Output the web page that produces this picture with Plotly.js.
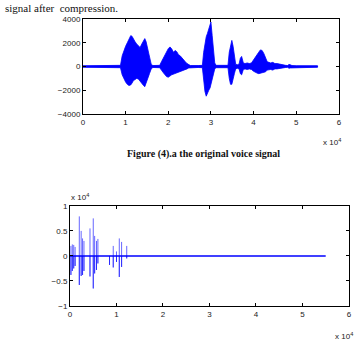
<!DOCTYPE html>
<html><head><meta charset="utf-8">
<script src="https://cdn.plot.ly/plotly-3.0.1.min.js"></script>
<style>html,body{margin:0;padding:0;background:#fff;}#c{width:359px;height:346px;}</style>
</head><body><div id="c"></div>
<script>
// Top plot: original voice signal (envelope, x in units of 10^4 samples)
const origX = [0,0.3,0.6,0.88,0.92,0.96,1.0,1.04,1.08,1.12,1.15,1.18,1.22,1.26,1.3,1.34,1.38,1.42,1.45,1.48,1.52,1.56,1.6,1.64,1.8,1.84,1.88,1.92,1.96,2.0,2.04,2.08,2.12,2.16,2.2,2.24,2.28,2.32,2.36,2.4,2.44,2.48,2.52,2.7,2.8,2.83,2.86,2.89,2.92,2.95,2.98,3.0,3.03,3.06,3.09,3.12,3.4,3.43,3.46,3.49,3.52,3.55,3.58,3.62,3.66,3.69,3.72,3.76,3.8,3.85,3.9,3.95,4.0,4.04,4.08,4.12,4.16,4.2,4.24,4.28,4.32,4.36,4.4,4.45,4.5,4.55,4.6,4.65,4.7,4.75,4.8,4.83,4.86,4.9,5.0,5.5];
const origUpper = [60,60,80,100,900,1400,1700,2000,2300,2600,2550,2300,2100,1900,1700,1600,1900,2200,2350,2100,1500,900,200,80,100,400,700,1000,1300,1500,1650,1500,1200,1350,1250,1000,900,700,500,400,250,150,80,80,100,1200,2000,2500,2800,3200,3500,3750,2600,1200,300,100,100,1200,1900,2200,1700,900,200,150,200,700,850,300,250,300,250,300,600,800,1000,1200,1400,1350,1100,800,400,350,300,350,250,250,200,180,150,100,80,180,150,80,60,60];
const origLower = [-60,-60,-80,-100,-700,-1000,-1300,-1500,-1600,-1550,-1400,-1200,-1100,-1000,-1050,-1200,-1400,-1600,-1700,-1500,-1000,-600,-200,-80,-100,-300,-500,-700,-850,-900,-800,-700,-600,-550,-500,-450,-400,-350,-300,-250,-200,-120,-80,-80,-100,-1200,-2100,-2500,-2300,-2000,-1800,-1500,-1200,-700,-200,-100,-100,-1000,-1500,-1500,-1100,-600,-200,-150,-200,-600,-700,-250,-200,-250,-200,-250,-400,-500,-550,-600,-600,-550,-500,-450,-300,-300,-250,-300,-200,-200,-150,-150,-120,-80,-60,-150,-120,-60,-60,-60];
const signalEnd = 5.5;

// Bottom plot: compressed signal spikes (x in 10^4, values in 10^4)
const compX   = [0.02,0.05,0.08,0.11,0.2,0.24,0.27,0.3,0.43,0.5,0.53,0.57,0.6,0.85,0.93,1.0,1.06,1.11,1.22];
const compTop = [0.2,0.23,0.22,0.18,0.79,0.5,0.35,0.3,0.55,0.75,0.4,0.3,0.34,0.0,0.2,0.09,0.35,0.28,0.2];
const compBot = [-0.38,-0.3,-0.25,-0.2,-0.58,-0.4,-0.38,-0.3,-0.41,-0.65,-0.35,-0.28,-0.15,-0.18,-0.23,-0.12,-0.42,-0.22,-0.05];

const xTicks = [0,1,2,3,4,5,6];

const polyX = origX.concat(origX.slice().reverse());
const polyY = origUpper.concat(origLower.slice().reverse());

const spikeX = [], spikeY = [];
compX.forEach((x,i)=>{ spikeX.push(x,x,x,null); spikeY.push(compTop[i],compBot[i],0,null); });

const blue = 'rgb(0,0,255)';
const traces = [
  {x: polyX, y: polyY, type:'scatter', mode:'lines', fill:'toself', fillcolor: blue,
   line:{color:blue, width:0.8}, xaxis:'x', yaxis:'y', hoverinfo:'skip'},
  {x:[0, signalEnd], y:[0,0], type:'scatter', mode:'lines', line:{color:blue, width:1.5}, xaxis:'x', yaxis:'y'},
  {x: spikeX, y: spikeY, type:'scatter', mode:'lines', line:{color:'rgba(0,0,255,0.6)', width:1}, xaxis:'x2', yaxis:'y2'},
  {x:[0, signalEnd], y:[0,0], type:'scatter', mode:'lines', line:{color:blue, width:1.5}, xaxis:'x2', yaxis:'y2'}
];

const tickFont = {family:'"Liberation Sans Narrow", "Liberation Sans", Arial, sans-serif', size:8, color:'#222'};
const axBase = {showline:true, linecolor:'#000', linewidth:1, mirror:'ticks', ticks:'inside', ticklen:3,
  tickcolor:'#000', showgrid:false, zeroline:false, tickfont:tickFont, fixedrange:true};

const layout = {
  width:359, height:346, margin:{l:0,r:0,t:0,b:0}, showlegend:false,
  paper_bgcolor:'#fff', plot_bgcolor:'#fff',
  xaxis: Object.assign({}, axBase, {domain:[0.231,0.944], range:[0,6], tickvals:xTicks, anchor:'y'}),
  yaxis: Object.assign({}, axBase, {domain:[0.6705,0.945], range:[-4000,4000], tickvals:[-4000,-2000,0,2000,4000], anchor:'x'}),
  xaxis2: Object.assign({}, axBase, {domain:[0.195,0.972], range:[0,6], tickvals:xTicks, anchor:'y2'}),
  yaxis2: Object.assign({}, axBase, {domain:[0.1156,0.405], range:[-1,1], tickvals:[-1,-0.5,0,0.5,1], anchor:'x2'}),
  annotations:[
    {text:'signal after  compression.', xref:'paper', yref:'paper', x:3/359, y:1-8/346, xanchor:'left', yanchor:'middle',
     showarrow:false, font:{family:'"Liberation Serif", "Times New Roman", serif', size:11, color:'#111'}},
    {text:'x 10<sup>4</sup>', xref:'paper', yref:'paper', x:332/359, y:1-142/346, xanchor:'center', yanchor:'middle',
     showarrow:false, font:tickFont},
    {text:'<b>Figure (4).a the original voice signal</b>', xref:'paper', yref:'paper', x:203/359, y:1-154/346, xanchor:'center', yanchor:'middle',
     showarrow:false, font:{family:'"Liberation Serif", "Times New Roman", serif', size:10, color:'#111'}},
    {text:'x 10<sup>4</sup>', xref:'paper', yref:'paper', x:80/359, y:1-197/346, xanchor:'center', yanchor:'middle',
     showarrow:false, font:tickFont},
    {text:'x 10<sup>4</sup>', xref:'paper', yref:'paper', x:344/359, y:1-336/346, xanchor:'center', yanchor:'middle',
     showarrow:false, font:tickFont}
  ]
};
Plotly.newPlot('c', traces, layout, {displayModeBar:false, staticPlot:true});
</script></body></html>
